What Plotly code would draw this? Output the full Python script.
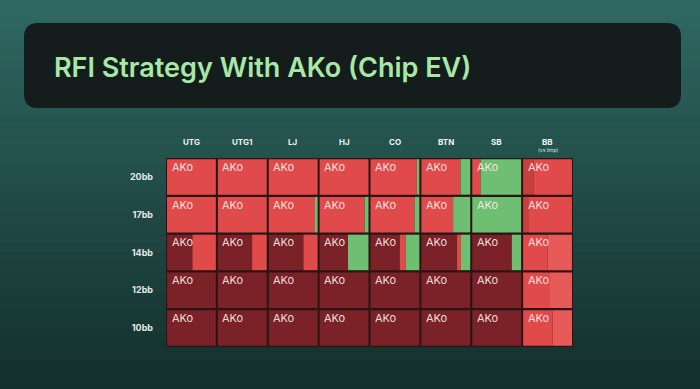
import plotly.graph_objects as go

positions = ["UTG", "UTG1", "LJ", "HJ", "CO", "BTN", "SB", "BB"]
stacks = ["20bb", "17bb", "14bb", "12bb", "10bb"]
hand = "AKo"

# fraction of each action per (stack row, position column)
fold = [
    [0, 0, 0, 0, 0, 0, 0, 0],
    [0, 0, 0, 0, 0, 0, 0, 0],
    [0.52, 0.70, 0.71, 0.58, 0.60, 0.73, 0.81, 0],
    [1, 1, 1, 1, 1, 1, 1, 0],
    [1, 1, 1, 1, 1, 1, 1, 0],
]
bb_raise = [
    [0, 0, 0, 0, 0, 0, 0, 0.22],
    [0, 0, 0, 0, 0, 0, 0, 0.12],
    [0, 0, 0, 0, 0, 0, 0, 0],
    [0, 0, 0, 0, 0, 0, 0, 0],
    [0, 0, 0, 0, 0, 0, 0, 0],
]
allin = [
    [1, 1, 1, 1, 0.95, 0.80, 0.17, 0.78],
    [1, 1, 0.96, 0.92, 0.90, 0.65, 0, 0.88],
    [0.48, 0.30, 0.29, 0, 0.12, 0.08, 0, 0.50],
    [0, 0, 0, 0, 0, 0, 0, 0.55],
    [0, 0, 0, 0, 0, 0, 0, 0.60],
]
bb_small = [
    [0, 0, 0, 0, 0, 0, 0, 0],
    [0, 0, 0, 0, 0, 0, 0, 0],
    [0, 0, 0, 0, 0, 0, 0, 0.50],
    [0, 0, 0, 0, 0, 0, 0, 0.45],
    [0, 0, 0, 0, 0, 0, 0, 0.40],
]
limp = [
    [0, 0, 0, 0, 0.05, 0.20, 0.83, 0],
    [0, 0, 0.04, 0.08, 0.10, 0.35, 1, 0],
    [0, 0, 0, 0.42, 0.28, 0.19, 0.19, 0],
    [0, 0, 0, 0, 0, 0, 0, 0],
    [0, 0, 0, 0, 0, 0, 0, 0],
]

actions = [
    ("Fold", fold, "#7a2227"),
    ("Raise", bb_raise, "#c83f3f"),
    ("All-in", allin, "#e04a4a"),
    ("Raise small", bb_small, "#e65a5a"),
    ("Limp", limp, "#6fbf73"),
]

W, H = 700, 389
ML, MR, MT, MB = 166, 127, 158, 42
PW, PH = W - ML - MR, H - MT - MB
inset = 0.02

fig = go.Figure()
cum = [[0.0] * len(positions) for _ in stacks]
for name, frac, color in actions:
    ys, xs, bases = [], [], []
    for r, s in enumerate(stacks):
        for c, p in enumerate(positions):
            f = frac[r][c]
            if f > 0:
                ys.append(s)
                xs.append(f * (1 - 2 * inset))
                bases.append(c + inset + cum[r][c] * (1 - 2 * inset))
                cum[r][c] += f
    fig.add_trace(go.Bar(
        y=ys, x=xs, base=bases, orientation="h", name=name,
        marker=dict(color=color, line=dict(width=0)),
        hoverinfo="skip", showlegend=False,
    ))

def px_x(px):
    return (px - ML) / PW

def px_y(py):
    return (H - MB - py) / PH

shapes = []
# background gradient bands
top = (47, 104, 99)
bot = (20, 48, 44)
n = 40
for i in range(n):
    t = i / (n - 1)
    col = tuple(int(top[k] + (bot[k] - top[k]) * t) for k in range(3))
    shapes.append(dict(type="rect", xref="paper", yref="paper", layer="below",
                       x0=px_x(0), x1=px_x(W), y0=px_y(H * (i + 1) / n + 1), y1=px_y(H * i / n),
                       fillcolor="rgb(%d,%d,%d)" % col, line=dict(width=0)))
# grid backing (cell gaps)
shapes.append(dict(type="rect", xref="x", yref="paper", layer="below",
                   x0=0, x1=len(positions), y0=0, y1=1,
                   fillcolor="#2a1515", line=dict(width=0)))

# rounded title box
x0, x1, y0, y1, rad = 24, 681, 23, 108, 14
def P(x, y):
    return "%f,%f" % (px_x(x), px_y(y))
path = ("M " + P(x0 + rad, y0) + " L " + P(x1 - rad, y0) + " Q " + P(x1, y0) + " " + P(x1, y0 + rad) +
        " L " + P(x1, y1 - rad) + " Q " + P(x1, y1) + " " + P(x1 - rad, y1) +
        " L " + P(x0 + rad, y1) + " Q " + P(x0, y1) + " " + P(x0, y1 - rad) +
        " L " + P(x0, y0 + rad) + " Q " + P(x0, y0) + " " + P(x0 + rad, y0) + " Z")
shapes.append(dict(type="path", xref="paper", yref="paper", path=path, layer="below",
                   fillcolor="#151c1c", line=dict(width=0)))

annotations = []
annotations.append(dict(text="RFI Strategy With AKo (Chip EV)", xref="paper", yref="paper",
                        x=px_x(52), y=px_y(67), xanchor="left", yanchor="middle", showarrow=False,
                        font=dict(family="Inter", size=27, color="#a8e8a6", weight=600)))
for c, p in enumerate(positions):
    annotations.append(dict(text="<b>%s</b>" % p, xref="x", yref="paper", x=c + 0.5, y=1,
                            yanchor="bottom", yshift=9, showarrow=False,
                            font=dict(family="Inter", size=8, color="#eef2f2")))
annotations.append(dict(text="(vs limp)", xref="x", yref="paper", x=len(positions) - 0.5, y=1,
                        yanchor="bottom", yshift=3, showarrow=False,
                        font=dict(family="Inter", size=5, color="#dfe6e6")))
for r, s in enumerate(stacks):
    for c, p in enumerate(positions):
        annotations.append(dict(text=hand, xref="x", yref="y", x=c + 0.07, y=s,
                                xanchor="left", yanchor="middle", yshift=10, showarrow=False,
                                font=dict(family="Inter", size=11, color="rgba(255,238,238,0.92)")))

fig.update_layout(
    width=W, height=H,
    margin=dict(l=ML, r=MR, t=MT, b=MB),
    paper_bgcolor="#1f4a47", plot_bgcolor="rgba(0,0,0,0)",
    barmode="overlay", bargap=0.06,
    shapes=shapes, annotations=annotations,
    xaxis=dict(range=[0, len(positions)], visible=False, fixedrange=True),
    yaxis=dict(categoryorder="array", categoryarray=stacks, autorange="reversed",
               showgrid=False, zeroline=False, showline=False, ticks="",
               ticklabelstandoff=12, fixedrange=True,
               tickfont=dict(family="Inter", size=9, color="#e4eaea", weight="bold")),
    showlegend=False,
)
fig.write_html("out.html", config={"displayModeBar": False},
               post_script="document.body.style.margin='0';document.body.style.overflow='hidden';")
